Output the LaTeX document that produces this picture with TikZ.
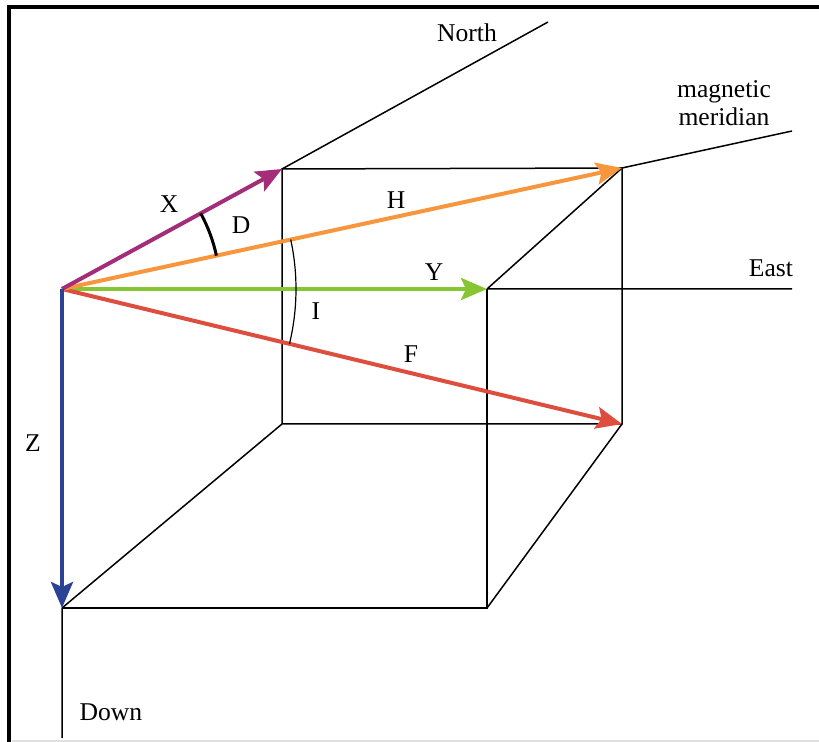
\documentclass[tikz,border=0pt]{standalone}
\usepackage{fontspec}
\setmainfont{Liberation Serif}
\usetikzlibrary{arrows.meta}
\definecolor{vecpurple}{RGB}{163,45,120}
\definecolor{vecorange}{RGB}{247,150,60}
\definecolor{vecgreen}{RGB}{135,198,50}
\definecolor{vecred}{RGB}{222,78,62}
\definecolor{vecblue}{RGB}{44,66,148}

\begin{document}
\begin{tikzpicture}[x=0.5pt,y=-0.5pt,font=\fontsize{12.8}{14}\selectfont,
  edge/.style={line width=0.75pt},
  vec/.style={line width=2pt,-{Stealth[length=13pt,width=11pt,inset=2.5pt]}},
  lbl/.style={inner sep=0pt,align=center}]
  \useasboundingbox (0,0) rectangle (819,742);
  \draw[black!12,line width=0.75pt] (12,741) -- (819,741);
  \draw[line width=2pt] (9,742) -- (9,7) -- (819,7);
  \coordinate (o) at (62,289);
  \coordinate (tx) at (282,169);
  \coordinate (th) at (622,168);
  \coordinate (ty) at (487,289);
  \coordinate (tf) at (622,424);
  \coordinate (tz) at (62,608);
  \coordinate (bk) at (282,424);
  \coordinate (fr) at (487,608);
  \coordinate (north) at (548,22);
  \coordinate (merid) at (792,131);
  \coordinate (east) at (792,289);
  \coordinate (down) at (62,738);
  \draw[edge] (tx) -- (th) -- (tf) -- (bk) -- cycle;
  \draw[edge] (tz) -- (fr) -- (ty);
  \draw[edge] (bk) -- (tz) (tf) -- (fr) (th) -- (ty);
  \draw[edge] (tx) -- (north) (th) -- (merid) (ty) -- (east) (tz) -- (down);
  \draw[vec,vecgreen] (o) -- (ty);
  \draw[vec,vecred] (o) -- (tf);
  \draw[vec,vecorange] (o) -- (th);
  \draw[vec,vecpurple] (o) -- (tx);
  \draw[vec,vecblue] (o) -- (tz);
  \draw[line width=1.5pt] (o) ++(-28.6:158) arc[start angle=-28.6,end angle=-12.2,radius=158];
  \draw[line width=0.6pt] (o) ++(-12.2:234) arc[start angle=-12.2,end angle=13.55,radius=234];
  \node[lbl] (lnorth) at (467,33) {North};
  \node[lbl] (lmerid) at (724,103) {magnetic\\meridian};
  \node[lbl] (least) at (771,268) {East};
  \node[lbl] (ldown) at (111,712) {Down};
  \node[lbl] (lx) at (169,204) {X};
  \node[lbl] (ld) at (241,225) {D};
  \node[lbl] (lh) at (396,200) {H};
  \node[lbl] (ly) at (434,272) {Y};
  \node[lbl] (li) at (316,311) {I};
  \node[lbl] (lf) at (411,354) {F};
  \node[lbl] (lz) at (33,443) {Z};
\end{tikzpicture}
\end{document}
